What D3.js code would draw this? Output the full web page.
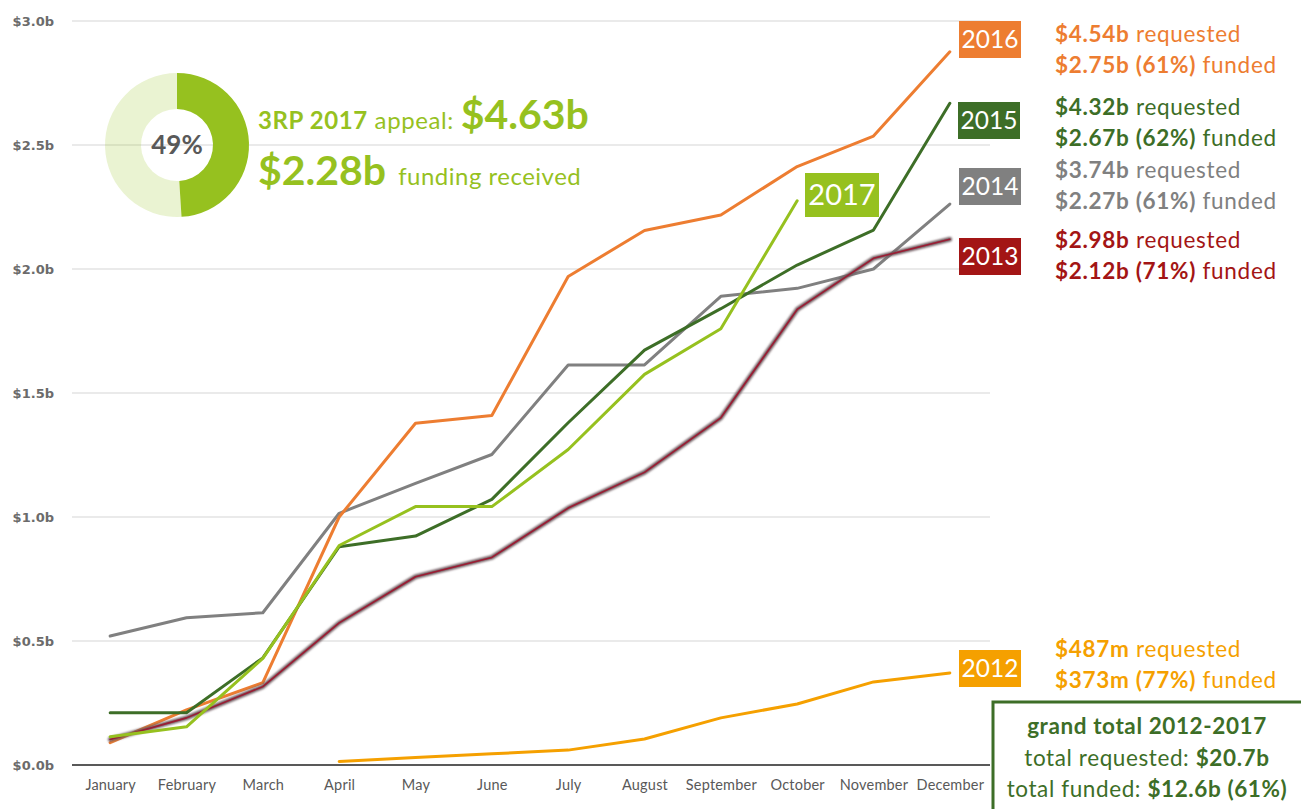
<!DOCTYPE html>
<html lang="en">
<head>
<meta charset="UTF-8">
<title>3RP funding 2012-2017</title>
<script src="https://d3js.org/d3.v7.min.js"></script>
<style>
  body { margin: 0; background: #fff; }
  text { font-family: Lato, "Open Sans", sans-serif; }
</style>
</head>
<body>
<svg id="chart" width="1301" height="809"></svg>
<script>
// months and cumulative funding received, billions USD
var months = ["January","February","March","April","May","June","July","August","September","October","November","December"];

var y2012 = [null, null, null, 0.014, 0.03, 0.045, 0.06, 0.105, 0.19, 0.246, 0.335, 0.371];
var y2013 = [0.103, 0.19, 0.316, 0.573, 0.759, 0.837, 1.036, 1.18, 1.40, 1.837, 2.043, 2.12];
var y2014 = [0.52, 0.594, 0.614, 1.015, 1.136, 1.252, 1.613, 1.613, 1.89, 1.922, 2.0, 2.262];
var y2015 = [0.211, 0.211, 0.432, 0.88, 0.923, 1.071, 1.38, 1.673, 1.84, 2.016, 2.157, 2.668];
var y2016 = [0.09, 0.222, 0.332, 1.0, 1.378, 1.409, 1.97, 2.155, 2.218, 2.413, 2.536, 2.876];
var y2017 = [0.114, 0.154, 0.43, 0.885, 1.042, 1.042, 1.272, 1.575, 1.759, 2.275];

var yTicks = [0, 0.5, 1.0, 1.5, 2.0, 2.5, 3.0];

// appeal summary
var appeal2017 = 4.63, funded2017 = 2.28, pct2017 = 49;

var colors = {
  2012: "#F5A000", 2013: "#A31515", 2014: "#808080",
  2015: "#3D6E27", 2016: "#ED7D31", 2017: "#96C11F"
};

var svg = d3.select("#chart");
// note: "top" is taken by window.top, so plot bounds get their own names
var plotL = 72, plotR = 988, plotT = 21, plotB = 765;

var x = d3.scalePoint().domain(months).range([plotL, plotR]).padding(0.5);
var y = d3.scaleLinear().domain([0, 3]).range([plotB, plotT]);

// grid
svg.append("g").selectAll("line")
  .data(yTicks.filter(function(d){ return d > 0; }))
  .join("line")
    .attr("x1", plotL).attr("x2", plotR + 2)
    .attr("y1", function(d){ return y(d); })
    .attr("y2", function(d){ return y(d); })
    .attr("stroke", "#e3e3e3").attr("stroke-width", 1.5);

// y labels
var yAxis = svg.append("g")
  .attr("transform", "translate(54,0)")
  .call(d3.axisLeft(y).tickValues(yTicks).tickSize(0).tickPadding(0)
    .tickFormat(function(d){ return "$" + d.toFixed(1) + "b"; }));
yAxis.select(".domain").remove();
yAxis.selectAll("text")
  .style("font-family", "'DejaVu Sans', Verdana, sans-serif")
  .style("font-weight", "bold").style("font-size", "13px")
  .attr("fill", "#6b6b6b");

// x axis
var xAxis = svg.append("g")
  .attr("transform", "translate(0," + plotB + ")")
  .call(d3.axisBottom(x).tickSize(0).tickPadding(15));
xAxis.select(".domain").remove();
xAxis.selectAll("text")
  .attr("font-size", 14.5).attr("letter-spacing", 0.2).attr("fill", "#595959");
svg.append("line")
  .attr("x1", plotL).attr("x2", plotR + 2)
  .attr("y1", plotB).attr("y2", plotB)
  .attr("stroke", "#595959").attr("stroke-width", 2);

// donut
var pie = d3.pie().sort(null);
var arc = d3.arc().innerRadius(36).outerRadius(72);
var donut = svg.append("g").attr("transform", "translate(177,145)");
donut.selectAll("path")
  .data(pie([pct2017, 100 - pct2017]))
  .join("path")
    .attr("d", arc)
    .attr("fill", "#96C11F")
    .attr("fill-opacity", function(d, i){ return i === 0 ? 1 : 0.2; });
donut.append("text")
  .attr("text-anchor", "middle").attr("y", 9)
  .attr("font-size", 26).attr("font-weight", "bold")
  .attr("fill", "#595959")
  .text(pct2017 + "%");

var head = svg.append("text").attr("x", 258).attr("y", 129).attr("fill", "#96C11F");
head.append("tspan").attr("font-size", 24).attr("font-weight", "bold").attr("letter-spacing", 0.6).text("3RP 2017");
head.append("tspan").attr("font-size", 24).attr("letter-spacing", 0.6).text(" appeal: ");
head.append("tspan").attr("font-size", 41).attr("font-weight", "bold").text("$" + appeal2017 + "b");

var sub = svg.append("text").attr("x", 258).attr("y", 185).attr("fill", "#96C11F");
sub.append("tspan").attr("font-size", 41).attr("font-weight", "bold").text("$" + funded2017 + "b");
sub.append("tspan").attr("font-size", 24).attr("letter-spacing", 0.5).attr("dx", 12).text("funding received");

// lines
var line = d3.line()
  .defined(function(d){ return d != null; })
  .x(function(d, i){ return x(months[i]); })
  .y(function(d){ return y(d); });

var defs = svg.append("defs");
defs.append("filter").attr("id", "soft")
  .attr("x", "-5%").attr("y", "-5%").attr("width", "110%").attr("height", "110%")
  .append("feGaussianBlur").attr("stdDeviation", 1.1);

var series = [
  {year: 2012, values: y2012},
  {year: 2014, values: y2014},
  {year: 2016, values: y2016},
  {year: 2015, values: y2015},
  {year: 2013, values: y2013},
  {year: 2017, values: y2017}
];

var lines = svg.append("g").attr("fill", "none")
  .attr("stroke-linejoin", "round").attr("stroke-linecap", "round");
series.forEach(function(s){
  if (s.year === 2013) {
    lines.append("path").attr("d", line(s.values))
      .attr("stroke", "#6e5a5f").attr("stroke-width", 4.5)
      .attr("filter", "url(#soft)");
    lines.append("path").attr("d", line(s.values))
      .attr("stroke", "#9c1c33").attr("stroke-width", 1.6);
  } else {
    lines.append("path").attr("d", line(s.values))
      .attr("stroke", colors[s.year]).attr("stroke-width", 3);
  }
});

// year tags
var tags = [
  {year: 2016, x: 959, y: 21, w: 62, h: 37},
  {year: 2015, x: 958, y: 102, w: 62, h: 37},
  {year: 2014, x: 959, y: 168, w: 62, h: 37},
  {year: 2013, x: 959, y: 238, w: 62, h: 37},
  {year: 2012, x: 959, y: 650, w: 62, h: 37},
  {year: 2017, x: 805, y: 173, w: 74, h: 44}
];
tags.forEach(function(t){
  var g = svg.append("g").attr("transform", "translate(" + t.x + "," + t.y + ")");
  g.append("rect").attr("width", t.w).attr("height", t.h).attr("fill", colors[t.year]);
  g.append("text").attr("x", t.w / 2).attr("y", t.h / 2 + (t.year === 2017 ? 10 : 8.5))
    .attr("text-anchor", "middle").attr("fill", "#fff")
    .attr("font-size", t.year === 2017 ? 29 : 24.5)
    .text(t.year);
});

// requested / funded notes
var notes = [
  {year: 2016, req: "$4.54b", fund: "$2.75b (61%)", y: 42},
  {year: 2015, req: "$4.32b", fund: "$2.67b (62%)", y: 115},
  {year: 2014, req: "$3.74b", fund: "$2.27b (61%)", y: 178},
  {year: 2013, req: "$2.98b", fund: "$2.12b (71%)", y: 248},
  {year: 2012, req: "$487m", fund: "$373m (77%)", y: 657}
];
notes.forEach(function(n){
  var t1 = svg.append("text").attr("x", 1055).attr("y", n.y)
    .attr("font-size", 22.5).attr("letter-spacing", 0.7).attr("fill", colors[n.year]);
  t1.append("tspan").attr("font-weight", "bold").text(n.req);
  t1.append("tspan").text(" requested");
  var t2 = svg.append("text").attr("x", 1055).attr("y", n.y + 31)
    .attr("font-size", 22.5).attr("letter-spacing", 0.7).attr("fill", colors[n.year]);
  t2.append("tspan").attr("font-weight", "bold").text(n.fund);
  t2.append("tspan").text(" funded");
});

// grand total box
var box = svg.append("g");
box.append("rect").attr("x", 993).attr("y", 702).attr("width", 320).attr("height", 120)
  .attr("fill", "#fff").attr("stroke", "#3D6E27").attr("stroke-width", 3);
var gx = 1147;
box.append("text").attr("x", gx).attr("y", 734).attr("text-anchor", "middle")
  .attr("font-size", 22.5).attr("letter-spacing", 0.6).attr("font-weight", "bold").attr("fill", "#3D6E27")
  .text("grand total 2012-2017");
var r1 = box.append("text").attr("x", gx).attr("y", 766).attr("text-anchor", "middle")
  .attr("font-size", 22.5).attr("letter-spacing", 0.6).attr("fill", "#3D6E27");
r1.append("tspan").text("total requested: ");
r1.append("tspan").attr("font-weight", "bold").text("$20.7b");
var r2 = box.append("text").attr("x", gx).attr("y", 797).attr("text-anchor", "middle")
  .attr("font-size", 22.5).attr("letter-spacing", 0.6).attr("fill", "#3D6E27");
r2.append("tspan").text("total funded: ");
r2.append("tspan").attr("font-weight", "bold").text("$12.6b (61%)");
</script>
</body>
</html>
